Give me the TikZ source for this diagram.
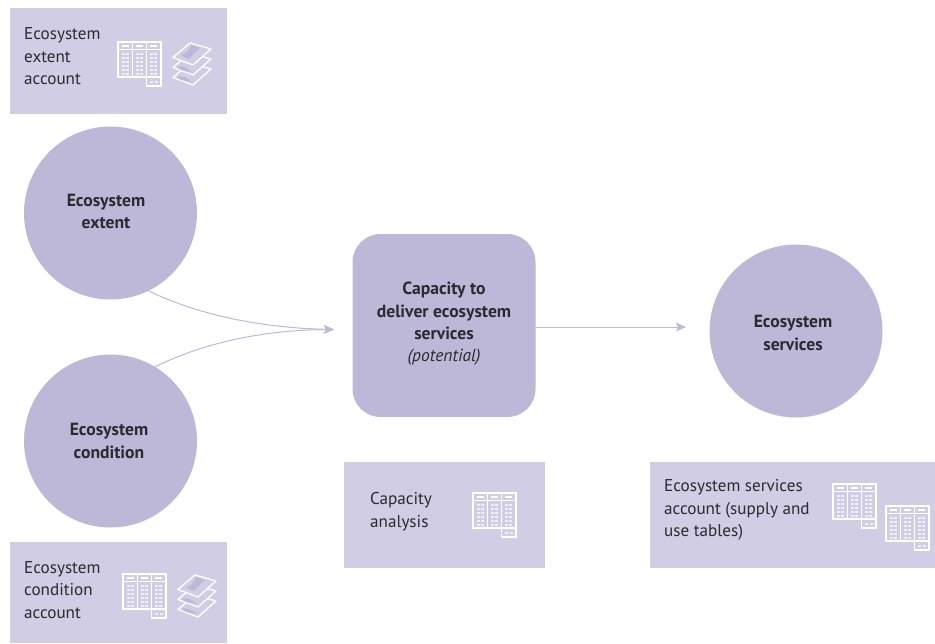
\documentclass[tikz,border=0pt]{standalone}
\usepackage{fontspec}
\setmainfont{PT Sans}
\usetikzlibrary{arrows.meta}
\definecolor{circ}{HTML}{BDB8D8}
\definecolor{boxc}{HTML}{D0CDE4}
\definecolor{txt}{HTML}{2B2A2F}
\definecolor{iconf}{HTML}{F0EFF6}
\tikzset{
  x=1pt,y=-1pt,
  blob/.style={circle,fill=circ,minimum size=173pt,inner sep=0pt},
  capbox/.style={rectangle,rounded corners=28pt,fill=circ,minimum width=183pt,minimum height=183pt,inner sep=0pt},
  panel/.style={rectangle,fill=boxc,inner sep=0pt,anchor=north west},
  lab/.style={anchor=west,align=left,text=txt,inner sep=0pt,font=\fontsize{17.1}{22.5}\selectfont},
  head/.style={align=center,text=txt,inner sep=0pt,font=\fontsize{17.6}{22.3}\selectfont\bfseries},
  link/.style={draw=circ,line width=1pt,-{Stealth[length=10pt,width=8.5pt,inset=2pt]}},
  tableicon/.pic={
    \draw[white,line width=1.2pt] (0,0) -- (43,0) -- (43,44) -- (28.5,44) -- (28.5,35) -- (0,35) -- cycle;
    \draw[white,line width=1.2pt] (14.5,0) -- (14.5,35) (28.5,0) -- (28.5,35) (0,7.5) -- (43,7.5) (28.5,35) -- (43,35);
    \foreach \cx in {3.5,17.5,31.5}{
      \fill[white] (\cx,3) rectangle ++(7,1.8);
      \foreach \ry in {10.5,14.6,18.7,22.8,26.9,31}{
        \fill[iconf] (\cx,\ry) rectangle ++(3.2,2.4);
        \fill[iconf] (\cx+4,\ry) rectangle ++(3.2,2.4);
      }
    }
    \fill[iconf] (32,38.5) rectangle ++(3.2,2.4);
    \fill[iconf] (36.5,38.5) rectangle ++(3.2,2.4);
  },
  mapicon/.pic={
    \foreach \dy in {20,10}{
      \begin{scope}[yshift=-\dy pt]
        \filldraw[draw=white,fill=boxc,line width=1.3pt,line join=round] (17,0) -- (38,6) -- (20,22) -- (0,14.5) -- cycle;
        \fill[circ] (4,14) .. controls (10,12) and (14,15) .. (19,19) -- (8,17) -- cycle;
      \end{scope}
    }
    \filldraw[draw=white,fill=boxc,line width=1.3pt,line join=round] (17,0) -- (38,6) -- (20,22) -- (0,14.5) -- cycle;
    \fill[circ] (18,2) .. controls (17,8) and (12,11) .. (8,12) -- (16,16) .. controls (22,10) and (24,7) .. (27,5) -- cycle;
  }
}
\begin{document}
\begin{tikzpicture}
\useasboundingbox (0,0) rectangle (935,643);
\node[panel,minimum width=217pt,minimum height=106pt] (p1) at (10,8) {};
\node[panel,minimum width=217pt,minimum height=101pt] (p2) at (10,542) {};
\node[panel,minimum width=201pt,minimum height=106pt] (p3) at (344,462) {};
\node[panel,minimum width=285pt,minimum height=106pt] (p4) at (650,462) {};

\node[blob] (c1) at (110.5,213) {};
\node[blob] (c2) at (110.5,441) {};
\node[blob] (c3) at (796,331) {};
\node[capbox] (cap) at (444,325.5) {};

\node[head] (h1) at (106,211.5) {Ecosystem\\extent};
\node[head] (h2) at (109,441) {Ecosystem\\condition};
\node[head] (h3) at (793,333) {Ecosystem\\services};
\node[head] (h4) at (444,324) {Capacity to\\deliver ecosystem\\services\\{\mdseries\itshape\fontsize{17.5}{22.3}\selectfont (potential)}};

\coordinate (join) at (334,329.5);
\coordinate (capout) at (536,327);
\coordinate (servin) at (686,327);
\draw[link] (c1.-64) .. controls (205,318) and (270,328) .. (join);
\draw[link] (c2.59) .. controls (210,340) and (270,330) .. (join);
\draw[link] (capout) -- (servin);

\node[lab] (t1) at (24,56.5) {Ecosystem\\extent\\account};
\node[lab] (t2) at (24,590) {Ecosystem\\condition\\account};
\node[lab] (t3) at (370,511.5) {Capacity\\analysis};
\node[lab] (t4) at (664,510) {Ecosystem services\\account (supply and\\use tables)};

\pic at (118,42) {tableicon};
\pic at (123,574) {tableicon};
\pic at (473,493) {tableicon};
\pic at (833,484) {tableicon};
\pic at (886,506) {tableicon};
\pic at (173,43) {mapicon};
\pic at (178,575) {mapicon};
\end{tikzpicture}
\end{document}
